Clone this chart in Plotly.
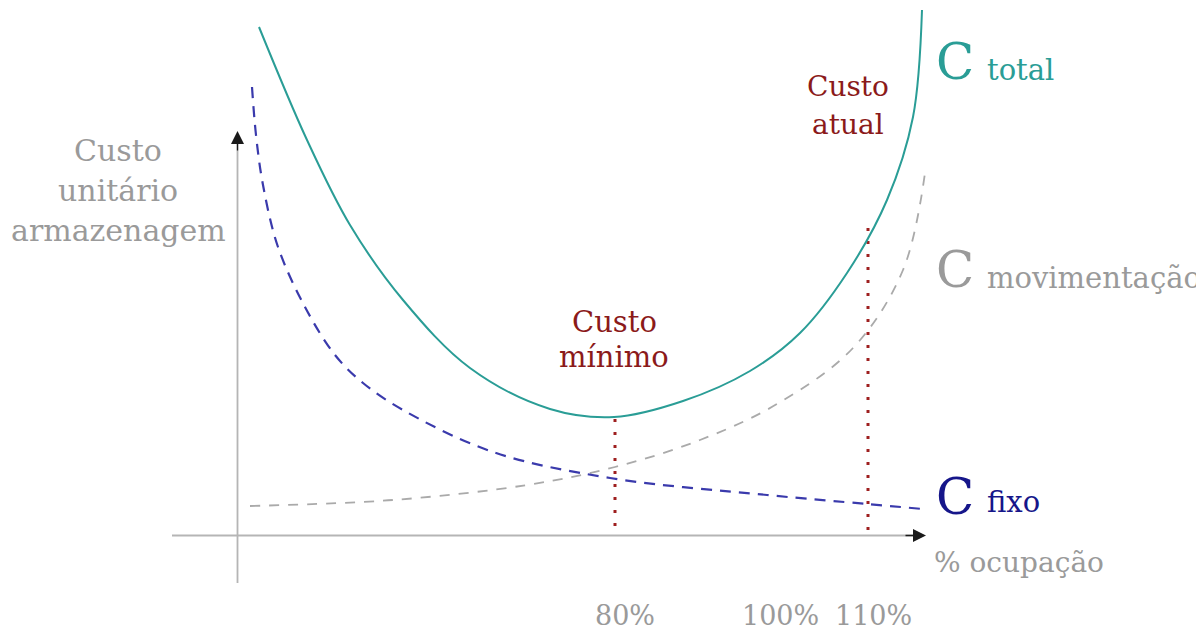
import plotly.graph_objects as go

# Curve points (horizontal position, vertical position in picture units)
total_x = [259, 307, 350, 403, 470, 550, 614, 683, 750, 800, 847, 887, 913, 922]
total_y = [27, 140, 225, 300, 368, 409, 417, 401, 371, 333, 273, 200, 117, 10]

fixo_x = [252, 256, 263, 278, 305, 335, 363, 403, 493, 610, 767, 867, 923]
fixo_y = [87, 135, 185, 247, 307, 355, 383, 410, 452, 478, 495, 504, 509]

mov_x = [250, 393, 527, 615, 700, 777, 853, 903, 925]
mov_y = [506, 500, 485, 467, 440, 404, 348, 270, 173]

# Dotted verticals: position, top, bottom
minimo_x, minimo_top, minimo_bot = 615, 419, 528
atual_x, atual_top, atual_bot = 868, 228, 532

tick_labels = ["80%", "100%", "110%"]
tick_pos = [625, 780, 873]

FONT = "DejaVu Serif"
TEAL = "#2a9d96"
BLUE = "#3a3aac"
NAVY = "#16168a"
GRAY = "#aaaaaa"
TXTGRAY = "#9a9a9a"
RED = "#8b1a1a"
DOT = "#9e1f1f"

fig = go.Figure()

# axes
fig.add_trace(go.Scatter(x=[237.5, 237.5], y=[583, 140], mode="lines",
                         line=dict(color="#b5b5b5", width=1.8), hoverinfo="skip"))
fig.add_trace(go.Scatter(x=[172, 916], y=[535.5, 535.5], mode="lines",
                         line=dict(color="#b5b5b5", width=1.8), hoverinfo="skip"))

# dotted verticals
fig.add_trace(go.Scatter(x=[minimo_x, minimo_x], y=[minimo_top, minimo_bot], mode="lines",
                         line=dict(color=DOT, width=3, dash="3px,10px"), hoverinfo="skip"))
fig.add_trace(go.Scatter(x=[atual_x, atual_x], y=[atual_top, atual_bot], mode="lines",
                         line=dict(color=DOT, width=3, dash="3px,10px"), hoverinfo="skip"))

# curves
fig.add_trace(go.Scatter(x=mov_x, y=mov_y, mode="lines", line_shape="spline",
                         line=dict(color=GRAY, width=1.8, smoothing=1.0, dash="10px,9px"), hoverinfo="skip"))
fig.add_trace(go.Scatter(x=fixo_x, y=fixo_y, mode="lines", line_shape="spline",
                         line=dict(color=BLUE, width=2.2, smoothing=1.0, dash="11px,8px"), hoverinfo="skip"))
fig.add_trace(go.Scatter(x=total_x, y=total_y, mode="lines", line_shape="spline",
                         line=dict(color=TEAL, width=2, smoothing=1.0), hoverinfo="skip"))

ann = []
# arrowheads
ann.append(dict(x=237.5, y=131, ax=237.5, ay=152, xref="x", yref="y", axref="x", ayref="y",
                text="", showarrow=True, arrowhead=2, arrowsize=2, arrowwidth=1.3, arrowcolor="#1a1a1a"))
ann.append(dict(x=926, y=535.5, ax=904, ay=535.5, xref="x", yref="y", axref="x", ayref="y",
                text="", showarrow=True, arrowhead=2, arrowsize=2, arrowwidth=1.3, arrowcolor="#1a1a1a"))

def txt(x, y, t, size, color, xanchor="center"):
    ann.append(dict(x=x, y=y, xref="x", yref="y", text=t, showarrow=False,
                    xanchor=xanchor, yanchor="middle",
                    font=dict(family=FONT, size=size, color=color)))

# y-axis title (one annotation per line to control spacing)
for line, yy in zip(["Custo", "unitário", "armazenagem"], [150, 190, 230]):
    txt(118, yy, line, 30, TXTGRAY)
for line, yy in zip(["Custo", "mínimo"], [322, 357]):
    txt(614, yy, line, 29, RED)
for line, yy in zip(["Custo", "atual"], [86, 124]):
    txt(848, yy, line, 28, RED)

txt(934, 62, "C", 50, TEAL, "left")
txt(985, 70, "total", 29, TEAL, "left")
txt(934, 270, "C", 50, TXTGRAY, "left")
txt(985, 278, "movimentação", 29, TXTGRAY, "left")
txt(934, 497, "C", 50, NAVY, "left")
txt(985, 502, "fixo", 29, NAVY, "left")
txt(932, 562, "% ocupação", 28, TXTGRAY, "left")

for lab, xp in zip(tick_labels, tick_pos):
    txt(xp, 615, lab, 27, TXTGRAY)

# the page adds an 8px body margin; shift the ranges so picture units match page pixels
OFF = 8
fig.update_layout(
    width=1204, height=631,
    margin=dict(l=0, r=0, t=0, b=0),
    paper_bgcolor="white", plot_bgcolor="white",
    showlegend=False,
    xaxis=dict(range=[OFF, 1204 + OFF], visible=False, fixedrange=True),
    yaxis=dict(range=[631 + OFF, OFF], visible=False, fixedrange=True),
    annotations=ann,
)

fig.write_html("out.html")
